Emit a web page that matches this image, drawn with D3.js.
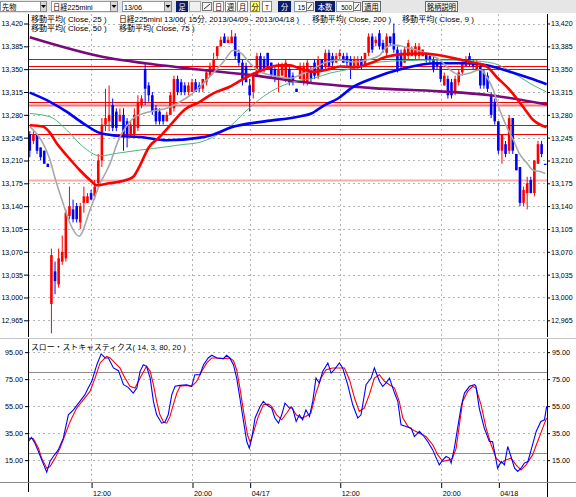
<!DOCTYPE html>
<html><head><meta charset="utf-8">
<script src="https://cdn.jsdelivr.net/npm/d3@7"></script>
<style>
body{margin:0;background:#fff;}
svg{display:block;}
text{font-family:"Liberation Sans","Noto Sans CJK JP",sans-serif;font-size:7.5px;fill:#000;}
</style></head><body>
<svg id="c" width="576" height="497"></svg>
<script>
// ---------------- DATA ----------------
const barCount = 144;
const openP = [13250,13240,13250,13230,13225,13205,12990,13040,13020,13055,13060,13125,13135,13140,13115,13145,13145,13160,13155,13175,
13210,13265,13270,13295,13285,13270,13280,13270,13250,13250,13260,13295,13350,13325,13310,13290,13285,13280,13270,13280,
13290,13335,13330,13325,13315,13315,13330,13325,13320,13330,13340,13350,13370,13385,13400,13390,13390,13400,13375,13360,
13355,13325,13315,13340,13370,13365,13375,13360,13350,13335,13340,13335,13350,13340,13320,13335,13330,13330,13350,13360,
13340,13365,13355,13375,13370,13360,13370,13370,13370,13365,13355,13355,13365,13355,13375,13400,13390,13405,13390,13375,
13400,13405,13380,13375,13360,13370,13370,13370,13370,13370,13375,13370,13365,13360,13355,13325,13335,13330,13315,13330,
13345,13355,13370,13360,13350,13355,13345,13340,13310,13300,13270,13225,13235,13225,13275,13220,13200,13145,13160,13180,
13160,13205,13235,13205];
const highP = [13255,13255,13250,13230,13225,13205,13075,13055,13075,13095,13135,13170,13150,13145,13145,13170,13160,13165,13180,13220,
13275,13320,13325,13305,13290,13290,13290,13275,13270,13290,13310,13310,13360,13330,13315,13295,13290,13280,13285,13315,
13340,13340,13335,13330,13330,13335,13335,13330,13335,13350,13360,13375,13385,13400,13405,13400,13410,13405,13380,13365,
13360,13335,13345,13375,13375,13370,13375,13360,13355,13360,13360,13365,13355,13345,13320,13360,13360,13365,13355,13365,
13370,13365,13380,13380,13375,13375,13380,13375,13375,13370,13370,13370,13370,13375,13405,13405,13400,13410,13395,13405,
13400,13420,13385,13380,13385,13395,13385,13390,13390,13380,13375,13375,13370,13365,13360,13345,13340,13335,13340,13350,
13365,13370,13375,13365,13365,13360,13350,13345,13315,13305,13270,13250,13240,13280,13275,13220,13200,13170,13185,13185,
13210,13240,13240,13205];
const lowP = [13215,13235,13220,13210,13205,13200,12945,13005,13015,13050,13055,13120,13115,13115,13105,13130,13145,13150,13150,13170,
13200,13255,13255,13255,13255,13270,13225,13230,13245,13245,13255,13290,13295,13300,13280,13265,13265,13265,13270,13280,
13285,13310,13310,13310,13310,13315,13315,13315,13315,13325,13340,13350,13365,13385,13390,13390,13390,13365,13355,13325,
13330,13285,13305,13340,13345,13345,13350,13335,13330,13315,13340,13330,13325,13325,13315,13335,13325,13325,13330,13335,
13335,13350,13350,13350,13355,13360,13365,13360,13355,13335,13350,13350,13350,13355,13370,13375,13385,13380,13375,13370,
13385,13375,13345,13350,13360,13365,13370,13365,13365,13370,13360,13360,13345,13350,13330,13325,13305,13305,13310,13325,
13340,13355,13355,13350,13350,13320,13320,13315,13275,13265,13220,13205,13215,13220,13220,13195,13140,13140,13135,13160,
13155,13205,13215,13205];
const closeP = [13225,13250,13225,13215,13205,13200,13065,13025,13060,13070,13130,13140,13120,13120,13140,13155,13155,13150,13170,13210,
13265,13275,13280,13260,13260,13280,13250,13250,13265,13280,13300,13305,13320,13310,13285,13270,13270,13270,13280,13310,
13335,13315,13315,13315,13325,13330,13315,13320,13335,13345,13355,13365,13385,13395,13390,13395,13400,13370,13360,13335,
13330,13310,13340,13370,13350,13350,13355,13340,13335,13350,13355,13360,13330,13330,13315,13355,13355,13360,13335,13340,
13365,13350,13375,13355,13360,13370,13375,13360,13360,13355,13365,13365,13355,13375,13400,13380,13395,13385,13380,13400,
13390,13380,13350,13355,13380,13390,13380,13385,13385,13380,13365,13365,13350,13355,13335,13340,13310,13310,13335,13345,
13360,13365,13360,13355,13360,13325,13325,13320,13280,13270,13225,13250,13220,13275,13225,13195,13145,13165,13175,13160,
13210,13235,13220,13205];

// moving averages: [bar index, value]
const ma9 = [[0,13262],[3.7,13236],[5.6,13211],[7,13183],[9.2,13145],[11.2,13113],[13.65,13094],[16.7,13134],[19.5,13175],[21.4,13195],
[22.3,13206],[24.5,13240],[27,13264],[29,13276],[31.5,13282],[35.2,13287],[38,13290],[41.7,13300],[44.5,13310],[47.2,13323],
[50.9,13344],[53.7,13361],[56.5,13379],[58.8,13374],[61.1,13359],[63.9,13346],[66.6,13341],[69.4,13338],[72.2,13336],[75,13341],
[78.7,13351],[82.4,13361],[86.1,13364],[89.8,13361],[93.5,13364],[97.2,13372],[98.6,13382],[100.9,13387],[105.5,13382],[110.1,13374],
[113.8,13364],[116.6,13349],[119.4,13341],[122.1,13344],[124.9,13349],[126.8,13338],[128.6,13318],[130.4,13287],[132.3,13262],[134.2,13241],
[135.8,13221],[137.9,13206],[139.7,13195],[141.6,13193],[143,13190]];
const ma25 = [[0,13264],[3.6,13262],[5.4,13254],[7.5,13236],[10.2,13218],[13.9,13195],[16.7,13180],[18.6,13172],[22,13175],[26.7,13180],
[28.7,13185],[30.6,13203],[33,13230],[36,13246],[39.6,13268],[43,13288],[47.2,13300],[50.9,13313],[55.5,13323],[60.2,13338],
[64.8,13349],[69.4,13356],[72.2,13356],[74.9,13351],[78.7,13346],[82.4,13349],[86.1,13354],[90.7,13353],[94.4,13359],[99,13369],
[103.6,13373],[108.3,13374],[112.9,13372],[117.5,13367],[122.1,13361],[126.8,13354],[129.5,13338],[133.2,13318],[136.9,13292],[139.7,13272],[143.4,13261]];
const ma50 = [[0,13282],[5.6,13277],[10.2,13257],[14.8,13231],[19.5,13217],[24.1,13221],[30.6,13226],[38,13231],[41.7,13234],[47.2,13238],
[50.9,13246],[55.5,13262],[60.2,13287],[64.8,13308],[69.4,13323],[74.1,13332],[78.7,13336],[83.3,13344],[87.9,13349],[97.2,13361],
[103.7,13363],[112.9,13364],[122.1,13363],[128.6,13359],[134.2,13344],[138.8,13328],[143.4,13315]];
const ma75 = [[0,13314],[5.6,13300],[10.2,13285],[14.8,13267],[19.5,13252],[24.1,13248],[30.6,13246],[38,13241],[47.2,13245],[51,13250],
[56,13261],[65.2,13270],[74.4,13277],[78.1,13282],[81.8,13295],[85.5,13305],[89.2,13321],[95.2,13336],[103.6,13351],[112.9,13359],
[121.2,13359],[126.8,13356],[133.2,13346],[138.8,13336],[143.4,13327]];
const ma200 = [[0,13399],[22,13367],[32,13359],[47.5,13349],[61.5,13341],[74.4,13331],[95.2,13321],[113.8,13316],[127.7,13310],[143.5,13296]];

// horizontal price levels
const levelLines = [13366,13355,13350,13300,13295,13265,13250,13180];
const softLevels = [13295,13180];

// slow stochastic [bar index, value]
const stochK = [[-0.4,28.8],[0.5,31.8],[1.4,27.6],[2.4,21.4],[3.3,15.2],[4.7,6.1],[5.6,14.0],[6.5,17.7],[7.9,22.6],[9.3,31.3],[10.7,48.6],[12.1,52.3],[13.9,58.5],[15.3,63.5],[16.2,68.4],[17.2,73.4],[18.6,85.7],[19.8,93.7],[20.9,90.7],[21.8,90.7],[23.2,83.3],[24.6,81.3],[26,70.9],[27.3,68.9],[28.7,64.7],[29.7,68.4],[30.6,80.8],[31.5,85.7],[32.4,84.5],[33.4,75.8],[34.3,58.5],[35.2,48.6],[36.6,42.4],[37.5,43.2],[38.4,48.6],[39.4,63.5],[40.3,69.7],[41.7,70.4],[43.5,70.9],[44.9,69.7],[45.8,78.3],[47.2,78.3],[48.2,85.7],[49.5,90.7],[50.5,92.7],[51.9,90.7],[53.7,90.2],[54.6,92.7],[55.5,90.7],[56.5,85.7],[57.4,75.8],[58.3,61.0],[59.3,43.7],[60.2,28.8],[60.9,23.9],[61.6,31.3],[62.5,46.2],[63.9,54.8],[64.8,58.5],[65.7,56.0],[67.1,53.6],[68,46.2],[69,42.4],[69.9,48.6],[70.8,57.3],[72,53.6],[72.9,53.6],[73.9,43.7],[74.8,48.6],[75.7,44.9],[76.6,52.3],[77.6,47.4],[78.5,58.5],[79.4,75.8],[80.3,72.1],[81.3,80.8],[82.7,87.0],[83.6,79.5],[84.5,82.0],[85.9,87.0],[86.8,83.3],[88.2,70.9],[89.6,56.0],[91,46.2],[91.9,48.6],[93.3,70.9],[94.7,75.8],[95.6,83.3],[97,73.4],[97.9,69.7],[98.8,72.1],[99.8,75.8],[101.2,64.7],[102.1,58.5],[103,41.2],[104.4,40.0],[105.8,38.7],[106.7,32.5],[108.1,36.3],[109,33.8],[110.4,28.8],[111.8,22.6],[113.6,11.5],[114.6,15.2],[115.5,17.7],[116.4,16.5],[116.9,12.8],[117.8,23.9],[118.7,38.7],[119.7,54.8],[120.6,64.7],[122,69.7],[123.4,70.9],[123.8,69.7],[124.7,53.6],[126.1,38.7],[127.5,28.8],[128.4,28.8],[129.8,9.0],[130.8,14.0],[131.7,11.5],[132.6,25.1],[133.5,17.7],[134.5,9.0],[135.4,6.6],[136.3,9.0],[137.2,12.8],[138.2,14.0],[139.1,22.6],[140.5,36.3],[141.8,43.7],[142.8,44.9],[143.4,54.8]];
const stochD = [[-0.4,31.3],[1,30.8],[2.4,23.9],[3.3,16.5],[4.7,9.0],[5.6,10.3],[7,16.5],[8.4,23.9],[9.8,33.8],[11.2,43.7],[13,53.6],[14.9,59.8],[16.7,65.9],[18.1,75.8],[19.5,87.0],[21.3,91.9],[22.3,90.7],[23.6,87.0],[25,83.3],[26.4,75.8],[27.8,69.7],[29.2,68.4],[30.6,75.8],[32.4,84.5],[33.4,80.8],[34.3,70.9],[35.2,58.5],[36.1,48.6],[37.1,43.2],[38,42.4],[38.9,47.4],[39.8,56.0],[40.8,64.7],[41.7,69.7],[43.5,70.4],[44.9,69.7],[46.3,73.4],[47.7,80.8],[49.1,87.0],[50.5,90.7],[51.9,90.7],[53.7,90.2],[55.5,90.7],[56.5,88.7],[57.4,82.0],[58.3,68.4],[59.3,51.1],[60.4,33.8],[61.1,28.3],[62,35.0],[63.4,47.4],[64.8,56.0],[66.2,56.5],[67.1,54.8],[68.5,48.6],[69.9,44.9],[71.3,49.9],[72.5,54.8],[73.9,48.6],[75.3,46.2],[76.6,47.4],[78,49.9],[79.4,64.7],[80.8,75.8],[82.2,82.0],[84,83.3],[85.9,83.3],[87.3,83.3],[88.7,74.6],[90.1,61.0],[91.4,51.1],[92.8,53.6],[94.2,63.5],[95.6,75.8],[97,78.3],[98.4,73.4],[99.8,70.9],[101.2,68.4],[102.5,58.5],[103.5,46.2],[104.9,40.0],[106.2,37.5],[108.1,35.0],[109.9,32.5],[111.8,26.4],[113.2,18.9],[114.6,14.0],[116.4,15.2],[117.3,16.5],[118.3,23.9],[119.2,41.2],[120.1,58.5],[121.5,65.9],[122.9,69.7],[123.8,68.4],[125.2,56.0],[126.6,38.7],[128,26.4],[129.4,16.5],[130.8,12.8],[132.1,15.2],[133.5,16.5],[134.9,11.5],[136.3,7.8],[137.7,11.5],[139.5,18.9],[140.9,28.8],[142.3,38.7],[143.4,46.2]];

const priceTicks = [12965,13000,13035,13070,13105,13140,13175,13210,13245,13280,13315,13350,13385,13420];
const stochTicks = [95,75,55,35,15];
const stochBands = [80,20];
const timeTickIdx = [17,45,61,86,114,130];
const timeTickLbl = ["12:00","20:00","04/17","12:00","20:00","04/18"];

const legendRow1 = ["移動平均( Close, 25 )","日経225mini 13/06( 15分, 2013/04/09 - 2013/04/18 )","移動平均( Close, 200 )","移動平均( Close, 9 )"];
const legendRow2 = ["移動平均( Close, 50 )","移動平均( Close, 75 )"];
const stochTitle = "スロー・ストキャスティクス( 14, 3, 80, 20 )";

// ---------------- HELPERS ----------------
const UNIT = 3.6;
function units(s){let n=0;for(const ch of s) n += ch.codePointAt(0)>0xff?2:1;return n;}
function fit(sel){sel.each(function(){const s=this.textContent;d3.select(this).attr('textLength',units(s)*UNIT).attr('lengthAdjust','spacingAndGlyphs');});}

const svg = d3.select('#c');
const plotL=28, plotR=547, mainTop=14, mainBot=337, stTop=339, stBot=482;
const x = d3.scaleLinear().domain([-0.5, barCount-0.5]).range([plotL, plotR]);
const y = d3.scaleLinear().domain([12965, 13420]).range([320.3, 23.5]);
const ys = d3.scaleLinear().domain([20, 80]).range([453.4, 372.4]);

const defs = svg.append('defs');
defs.append('clipPath').attr('id','clipMain').append('rect').attr('x',plotL).attr('y',mainTop).attr('width',plotR-plotL).attr('height',mainBot-mainTop);
defs.append('clipPath').attr('id','clipSt').append('rect').attr('x',plotL).attr('y',stTop).attr('width',plotR-plotL).attr('height',stBot-stTop);

svg.append('rect').attr('width',576).attr('height',497).attr('fill','#fff');

// ---------------- TOOLBAR ----------------
const tb = svg.append('g');
tb.append('rect').attr('x',0).attr('y',0).attr('width',576).attr('height',13).attr('fill','#e6e6e6');
function tbox(x0,x1,fill,stroke,label,col,anchor){
  tb.append('rect').attr('x',x0+0.5).attr('y',1.5).attr('width',x1-x0-1).attr('height',10).attr('fill',fill).attr('stroke',stroke);
  if(label){const t=tb.append('text').attr('x',anchor==='end'?x1-2:(anchor==='start'?x0+2:(x0+x1)/2)).attr('y',9.7)
     .attr('text-anchor',anchor||'middle').style('fill',col||'#000').text(label);fit(t);}
}
function arrowBtn(x0,x1){
  tb.append('rect').attr('x',x0+0.5).attr('y',1.5).attr('width',x1-x0-1).attr('height',10).attr('fill','#d8d8d8').attr('stroke','#888');
  const cx=(x0+x1)/2;
  tb.append('path').attr('d',`M${cx-2.5},5 L${cx+2.5},5 L${cx},8 Z`).attr('fill','#000');
}
function pick(x0,x1){
  tb.append('rect').attr('x',x0+0.5).attr('y',2.5).attr('width',x1-x0-1).attr('height',8).attr('fill','#f4f4f4').attr('stroke','#777');
  tb.append('path').attr('d',`M${x0+2},9 L${x1-2},4`).attr('stroke','#333').attr('fill','none');
}
tbox(0,47,'#fff','#7f9db9','先物','#000','start'); arrowBtn(40,47);
tbox(51,118,'#fff','#7f9db9','日経225mini','#000','start'); arrowBtn(110,118);
tbox(122,172,'#fff','#7f9db9','13/06','#000','start'); arrowBtn(164,172);
tbox(176,188,'#0a1e6e','#0a1e6e','足','#fff');
tbox(189,201,'#f0f0f0','#aaa',null); pick(202,212);
tbox(213,224,'#fff','#888','日'); tbox(225,236,'#fff','#888','週'); tbox(237,248,'#fff','#888','月');
tbox(250,260,'#ffff66','#888','分'); tbox(262,272,'#fff','#888','T');
tbox(278,291,'#0a1e6e','#0a1e6e','分','#fff');
tbox(294,307,'#fff','#7f9db9','15','#000','end'); pick(306,314);
tbox(315,335,'#0a1e6e','#0a1e6e','本数','#fff');
tbox(336,354,'#fff','#7f9db9','500','#000','end'); pick(353,361);
tbox(362,381,'#f4f4f4','#666','適用');
tbox(425,458,'#f4f4f4','#666','銘柄説明');

// ---------------- MAIN PANEL ----------------
const main = svg.append('g');
const gridCol = '#b4b4b4';
main.append('g').selectAll('line').data(priceTicks).join('line')
  .attr('x1',plotL).attr('x2',plotR).attr('y1',d=>Math.round(y(d))+0.5).attr('y2',d=>Math.round(y(d))+0.5)
  .attr('stroke',gridCol).attr('stroke-dasharray','2,3');
main.append('g').selectAll('line').data(timeTickIdx).join('line')
  .attr('x1',d=>Math.round(x(d))+0.5).attr('x2',d=>Math.round(x(d))+0.5).attr('y1',mainTop).attr('y2',mainBot)
  .attr('stroke',gridCol).attr('stroke-dasharray','2,3');

const cg = main.append('g').attr('clip-path','url(#clipMain)');
cg.selectAll('line.lvl').data(levelLines).join('line').attr('class','lvl')
  .attr('x1',plotL).attr('x2',plotR).attr('y1',d=>Math.round(y(d))+0.5).attr('y2',d=>Math.round(y(d))+0.5)
  .attr('stroke',d=>softLevels.includes(d)?(d<13200?'#ffaaaa':'#ff7070'):'#ff0000')
  .attr('stroke-width',d=>softLevels.includes(d)?2:1);

const bars = d3.range(barCount).map(i=>({i,o:openP[i],h:highP[i],l:lowP[i],c:closeP[i]}));
const col = d=>d.c>d.o?'#ff0000':'#0000ff';
cg.selectAll('line.wick').data(bars).join('line').attr('class','wick')
  .attr('x1',d=>x(d.i)).attr('x2',d=>x(d.i)).attr('y1',d=>y(d.h)).attr('y2',d=>y(d.l))
  .attr('stroke',col).attr('stroke-width',1);
cg.selectAll('rect.body').data(bars).join('rect').attr('class','body')
  .attr('x',d=>x(d.i)-1.3).attr('width',2.6)
  .attr('y',d=>y(Math.max(d.o,d.c))).attr('height',d=>Math.max(1.2,Math.abs(y(d.o)-y(d.c))))
  .attr('fill',col);

const maLine = d3.line().x(d=>x(d[0])).y(d=>y(d[1])).curve(d3.curveMonotoneX);
const maSeries = [
  {data:ma200,color:'#7a0a7a',w:2.6},
  {data:ma50,color:'#4cb87a',w:1},
  {data:ma75,color:'#0000ff',w:2.6},
  {data:ma9,color:'#a8a8a8',w:1.6},
  {data:ma25,color:'#ff0000',w:2.6}
];
cg.selectAll('path.ma').data(maSeries).join('path').attr('class','ma')
  .attr('d',d=>maLine(d.data)).attr('fill','none').attr('stroke',d=>d.color).attr('stroke-width',d=>d.w)
  .attr('stroke-linejoin','round');

// axes main
const axL = main.append('g').attr('transform',`translate(${plotL},0)`)
  .call(d3.axisLeft(y).tickValues(priceTicks).tickFormat(d3.format(',')).tickSize(4).tickPadding(1));
const axR = main.append('g').attr('transform',`translate(${plotR},0)`)
  .call(d3.axisRight(y).tickValues(priceTicks).tickFormat(d3.format(',')).tickSize(3).tickPadding(1));
[axL,axR].forEach(a=>{a.select('.domain').remove();a.selectAll('text').attr('font-family',null).attr('font-size',null).call(fit);a.selectAll('line').attr('stroke','#000');});
main.append('line').attr('x1',plotL+0.5).attr('x2',plotL+0.5).attr('y1',mainTop).attr('y2',mainBot).attr('stroke','#000');
main.append('line').attr('x1',plotR+0.5).attr('x2',plotR+0.5).attr('y1',mainTop).attr('y2',mainBot).attr('stroke','#000');

// legend
const legX1=[31,119,312,402], legX2=[31,119];
main.selectAll('text.lg1').data(legendRow1).join('text').attr('class','lg1')
  .attr('x',(d,i)=>legX1[i]).attr('y',21.5).text(d=>d).call(fit);
main.selectAll('text.lg2').data(legendRow2).join('text').attr('class','lg2')
  .attr('x',(d,i)=>legX2[i]).attr('y',30.5).text(d=>d).call(fit);

// separator
svg.append('line').attr('x1',0).attr('x2',576).attr('y1',mainBot+1.5).attr('y2',mainBot+1.5).attr('stroke','#c8c8c8');

// ---------------- STOCHASTIC PANEL ----------------
const st = svg.append('g');
st.append('g').selectAll('line').data(stochTicks).join('line')
  .attr('x1',plotL).attr('x2',plotR).attr('y1',d=>Math.round(ys(d))+0.5).attr('y2',d=>Math.round(ys(d))+0.5)
  .attr('stroke',gridCol).attr('stroke-dasharray','2,3');
st.append('g').selectAll('line').data(timeTickIdx).join('line')
  .attr('x1',d=>Math.round(x(d))+0.5).attr('x2',d=>Math.round(x(d))+0.5).attr('y1',stTop).attr('y2',stBot)
  .attr('stroke',gridCol).attr('stroke-dasharray','2,3');
st.append('g').selectAll('line').data(stochBands).join('line')
  .attr('x1',plotL).attr('x2',plotR).attr('y1',d=>Math.round(ys(d))+0.5).attr('y2',d=>Math.round(ys(d))+0.5)
  .attr('stroke','#958a8a');
const sg = st.append('g').attr('clip-path','url(#clipSt)');
const sLine = d3.line().x(d=>x(d[0])).y(d=>ys(d[1]));
sg.append('path').attr('d',sLine(stochD)).attr('fill','none').attr('stroke','#ff0000').attr('stroke-width',1.1);
sg.append('path').attr('d',sLine(stochK)).attr('fill','none').attr('stroke','#0000ff').attr('stroke-width',1.1);

const sL = st.append('g').attr('transform',`translate(${plotL},0)`)
  .call(d3.axisLeft(ys).tickValues(stochTicks).tickFormat(d3.format('.2f')).tickSize(3).tickPadding(2));
const sR = st.append('g').attr('transform',`translate(${plotR},0)`)
  .call(d3.axisRight(ys).tickValues(stochTicks).tickFormat(d3.format('.2f')).tickSize(3).tickPadding(2));
[sL,sR].forEach(a=>{a.select('.domain').remove();a.selectAll('text').attr('font-family',null).attr('font-size',null).call(fit);a.selectAll('line').attr('stroke','#000');});
st.append('line').attr('x1',plotL+0.5).attr('x2',plotL+0.5).attr('y1',stTop).attr('y2',stBot+10).attr('stroke','#000');
st.append('line').attr('x1',plotR+0.5).attr('x2',plotR+0.5).attr('y1',stTop).attr('y2',stBot+15).attr('stroke','#000');
st.append('text').attr('x',31).attr('y',350).text(stochTitle).call(fit);

// time axis
const axB = st.append('g').attr('transform',`translate(0,${stBot})`)
  .call(d3.axisBottom(x).tickValues(timeTickIdx).tickFormat((d,i)=>timeTickLbl[i]).tickSize(6).tickPadding(3));
axB.select('.domain').remove();
axB.selectAll('line').attr('stroke','#000').attr('transform','translate(0.5,0)');
axB.selectAll('text').attr('font-family',null).attr('font-size',null).attr('text-anchor','start').attr('x',1.5).attr('dy','0.71em').call(fit);
st.append('line').attr('x1',0).attr('x2',576).attr('y1',stBot+0.5).attr('y2',stBot+0.5).attr('stroke','#8a8a8a');
</script>
</body></html>
